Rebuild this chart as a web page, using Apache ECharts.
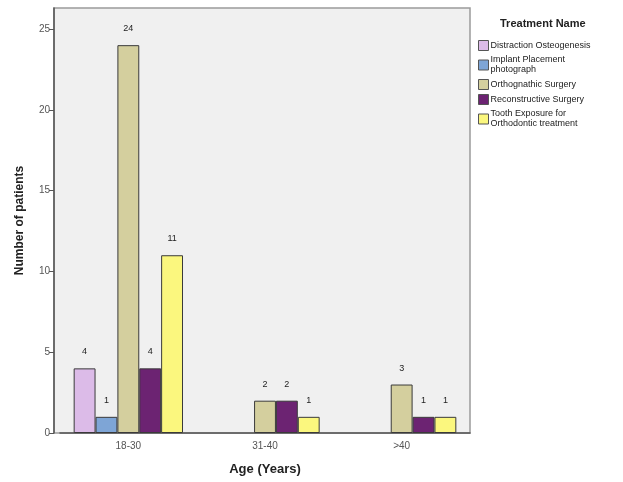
<!DOCTYPE html>
<html><head><meta charset="utf-8">
<script src="https://cdn.jsdelivr.net/npm/echarts@6/dist/echarts.min.js"></script>
<style>html,body{margin:0;padding:0;background:#fff}#c{width:623px;height:482px}</style>
</head><body><div id="c"></div>
<script>
var categories = ['18-30', '31-40', '>40'];
var seriesNames = ['Distraction Osteogenesis', 'Implant Placement photograph', 'Orthognathic Surgery', 'Reconstructive Surgery', 'Tooth Exposure for Orthodontic treatment'];
var legendLabels = ['Distraction Osteogenesis', 'Implant Placement\nphotograph', 'Orthognathic Surgery', 'Reconstructive Surgery', 'Tooth Exposure for\nOrthodontic treatment'];
var distraction = [4, null, null];
var implant = [1, null, null];
var orthognathic = [24, 2, 3];
var reconstructive = [4, 2, 1];
var toothExposure = [11, 1, 1];
var colors = ['#dcbbe8', '#7ea5d6', '#d4cf9e', '#6c2372', '#fbf77e'];
var yTicks = [0, 5, 10, 15, 20, 25];

var values = [distraction, implant, orthognathic, reconstructive, toothExposure];
var chart = echarts.init(document.getElementById('c'));
var series = seriesNames.map(function (n, i) {
  return {
    name: n, type: 'bar', data: values[i],
    barCategoryGap: '20%', barGap: '0%',
    itemStyle: { color: colors[i], borderColor: '#3a3a3a', borderWidth: 1 },
    label: { show: true, position: 'top', distance: 12, color: '#222', fontSize: 9, fontFamily: 'Arial, Liberation Sans, sans-serif' }
  };
});
chart.setOption({
  animation: false,
  backgroundColor: '#fff',
  graphic: [{ type: 'rect', z: -1, shape: { x: 54, y: 8, width: 416, height: 425 }, style: { fill: '#f0f0f0', stroke: '#9a9a9a', lineWidth: 1.5 } }],
  grid: { left: 60, top: 8, right: 153, bottom: 49 },
  legend: {
    orient: 'vertical', left: 473, top: 35, itemWidth: 10, itemHeight: 10, itemGap: 4,
    icon: 'rect',
    itemStyle: { borderColor: '#555', borderWidth: 1 },
    textStyle: { fontSize: 9, color: '#222', fontFamily: 'Arial, Liberation Sans, sans-serif', lineHeight: 10, padding: [0, 0, 0, -3] },
    formatter: function (n) { return legendLabels[seriesNames.indexOf(n)]; },
    data: seriesNames
  },
  title: { text: 'Treatment Name', left: 495, top: 13, textStyle: { fontSize: 11, fontWeight: 'bold', color: '#222', fontFamily: 'Arial, Liberation Sans, sans-serif' } },
  xAxis: {
    type: 'category', data: categories,
    name: 'Age (Years)', nameLocation: 'middle', nameGap: 30,
    nameTextStyle: { fontSize: 13, fontWeight: 'bold', color: '#222', fontFamily: 'Arial, Liberation Sans, sans-serif' },
    axisLine: { lineStyle: { color: '#555', width: 1.5 } },
    axisTick: { alignWithLabel: true, length: 5, lineStyle: { color: '#555' } },
    axisLabel: { color: '#555', fontSize: 10, margin: 8, fontFamily: 'Arial, Liberation Sans, sans-serif' }
  },
  yAxis: {
    type: 'value', min: 0, max: 26.3, interval: 5, offset: 6,
    name: 'Number of patients', nameLocation: 'middle', nameGap: 28,
    nameTextStyle: { fontSize: 12, fontWeight: 'bold', color: '#222', fontFamily: 'Arial, Liberation Sans, sans-serif' },
    axisLine: { show: true, lineStyle: { color: '#555', width: 1.5 } },
    axisTick: { show: true, length: 5, customValues: yTicks, lineStyle: { color: '#555' } },
    axisLabel: { color: '#555', fontSize: 10, margin: 4, customValues: yTicks, fontFamily: 'Arial, Liberation Sans, sans-serif' },
    splitLine: { show: false }
  },
  series: series
});
</script></body></html>
